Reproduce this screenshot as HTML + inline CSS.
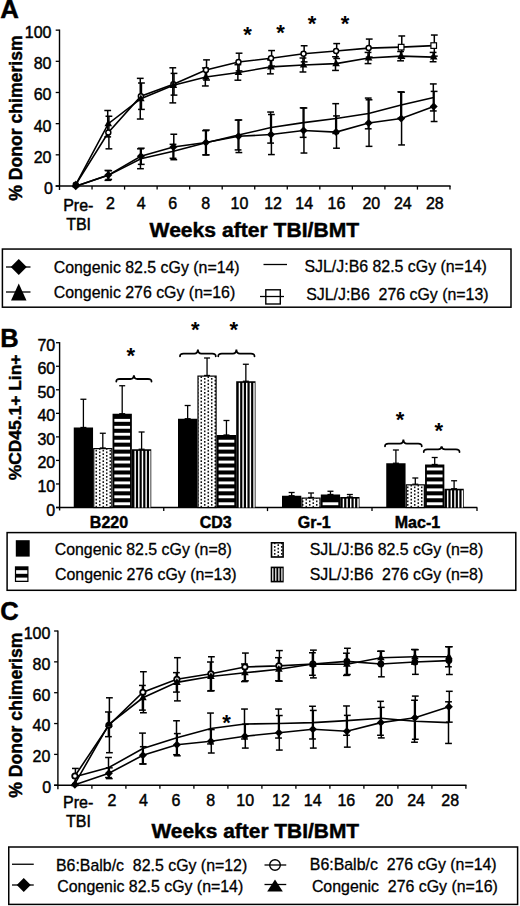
<!DOCTYPE html><html><head><meta charset="utf-8"><title>Figure</title><style>html,body{margin:0;padding:0;background:#fff;}svg{display:block;}</style></head><body>
<svg width="520" height="906" viewBox="0 0 520 906" font-family='"Liberation Sans", sans-serif' fill="#000" stroke="#000">
<defs><pattern id="dots" patternUnits="userSpaceOnUse" width="7" height="3.5"><rect width="7" height="3.5" fill="#fff" stroke="none"/><circle cx="1.75" cy="0.875" r="0.9" fill="#000" stroke="none"/><circle cx="5.25" cy="2.625" r="0.9" fill="#000" stroke="none"/></pattern></defs>
<g stroke="none">
<g stroke="#000">
<line x1="59.5" y1="29.55" x2="59.5" y2="190" stroke-width="1.4"/>
<line x1="55.7" y1="186" x2="59.5" y2="186" stroke-width="1.3"/>
<line x1="55.7" y1="154.83" x2="59.5" y2="154.83" stroke-width="1.3"/>
<line x1="55.7" y1="123.66" x2="59.5" y2="123.66" stroke-width="1.3"/>
<line x1="55.7" y1="92.49" x2="59.5" y2="92.49" stroke-width="1.3"/>
<line x1="55.7" y1="61.32" x2="59.5" y2="61.32" stroke-width="1.3"/>
<line x1="55.7" y1="30.15" x2="59.5" y2="30.15" stroke-width="1.3"/>
<line x1="55.7" y1="186" x2="450.58" y2="186" stroke-width="1.4"/>
<line x1="92.04" y1="186" x2="92.04" y2="189.6" stroke-width="1.3"/>
<line x1="124.58" y1="186" x2="124.58" y2="189.6" stroke-width="1.3"/>
<line x1="157.12" y1="186" x2="157.12" y2="189.6" stroke-width="1.3"/>
<line x1="189.66" y1="186" x2="189.66" y2="189.6" stroke-width="1.3"/>
<line x1="222.2" y1="186" x2="222.2" y2="189.6" stroke-width="1.3"/>
<line x1="254.74" y1="186" x2="254.74" y2="189.6" stroke-width="1.3"/>
<line x1="287.28" y1="186" x2="287.28" y2="189.6" stroke-width="1.3"/>
<line x1="319.82" y1="186" x2="319.82" y2="189.6" stroke-width="1.3"/>
<line x1="352.36" y1="186" x2="352.36" y2="189.6" stroke-width="1.3"/>
<line x1="384.9" y1="186" x2="384.9" y2="189.6" stroke-width="1.3"/>
<line x1="417.44" y1="186" x2="417.44" y2="189.6" stroke-width="1.3"/>
<line x1="449.98" y1="186" x2="449.98" y2="189.6" stroke-width="1.3"/>
</g>
<text x="43.96" y="194" font-size="16" font-weight="normal" stroke="#000" stroke-width="0.45">0</text>
<text x="33.68" y="162.83" font-size="16" font-weight="normal" stroke="#000" stroke-width="0.45">20</text>
<text x="33.68" y="131.66" font-size="16" font-weight="normal" stroke="#000" stroke-width="0.45">40</text>
<text x="33.68" y="100.49" font-size="16" font-weight="normal" stroke="#000" stroke-width="0.45">60</text>
<text x="33.68" y="69.32" font-size="16" font-weight="normal" stroke="#000" stroke-width="0.45">80</text>
<text x="24.8" y="38.15" font-size="16" font-weight="normal" stroke="#000" stroke-width="0.45">100</text>
<text x="105.96" y="208.9" font-size="16" font-weight="normal" stroke="#000" stroke-width="0.45">2</text>
<text x="136.8" y="208.9" font-size="16" font-weight="normal" stroke="#000" stroke-width="0.45">4</text>
<text x="168.22" y="208.9" font-size="16" font-weight="normal" stroke="#000" stroke-width="0.45">6</text>
<text x="201.32" y="208.9" font-size="16" font-weight="normal" stroke="#000" stroke-width="0.45">8</text>
<text x="230.54" y="208.9" font-size="16" font-weight="normal" stroke="#000" stroke-width="0.45">10</text>
<text x="264.17" y="208.9" font-size="16" font-weight="normal" stroke="#000" stroke-width="0.45">12</text>
<text x="295.36" y="208.9" font-size="16" font-weight="normal" stroke="#000" stroke-width="0.45">14</text>
<text x="327.58" y="208.9" font-size="16" font-weight="normal" stroke="#000" stroke-width="0.45">16</text>
<text x="362.39" y="208.9" font-size="16" font-weight="normal" stroke="#000" stroke-width="0.45">20</text>
<text x="393.96" y="208.9" font-size="16" font-weight="normal" stroke="#000" stroke-width="0.45">24</text>
<text x="425.89" y="208.9" font-size="16" font-weight="normal" stroke="#000" stroke-width="0.45">28</text>
<text x="63.2" y="210.8" font-size="16" font-weight="normal" stroke="#000" stroke-width="0.45">Pre-</text>
<text x="66.18" y="229.6" font-size="16" font-weight="normal" stroke="#000" stroke-width="0.45">TBI</text>
<text transform="translate(149.6,236.8) scale(1.0347,1)" font-size="20.4" font-weight="bold" stroke="#000" stroke-width="0.45">Weeks after TBI/BMT</text>
<text transform="translate(21.9,200.74) rotate(-90) scale(0.9785,1)" font-size="18" font-weight="bold" stroke="#000" stroke-width="0.45">% Donor chimerism</text>
<text x="0.26" y="17.9" font-size="25.8" font-weight="bold" stroke="#000" stroke-width="0.45">A</text>
<g stroke="#000">
<line x1="108.91" y1="116.23" x2="108.91" y2="148.83" stroke-width="1.5"/>
<line x1="105.51" y1="116.23" x2="112.31" y2="116.23" stroke-width="1.5"/>
<line x1="105.51" y1="148.83" x2="112.31" y2="148.83" stroke-width="1.5"/>
<line x1="141.45" y1="83.01" x2="141.45" y2="109.4" stroke-width="1.5"/>
<line x1="138.05" y1="83.01" x2="144.85" y2="83.01" stroke-width="1.5"/>
<line x1="138.05" y1="109.4" x2="144.85" y2="109.4" stroke-width="1.5"/>
<line x1="173.99" y1="73.38" x2="173.99" y2="95.12" stroke-width="1.5"/>
<line x1="170.59" y1="73.38" x2="177.39" y2="73.38" stroke-width="1.5"/>
<line x1="170.59" y1="95.12" x2="177.39" y2="95.12" stroke-width="1.5"/>
<line x1="206.53" y1="59.88" x2="206.53" y2="80.06" stroke-width="1.5"/>
<line x1="203.13" y1="59.88" x2="209.93" y2="59.88" stroke-width="1.5"/>
<line x1="203.13" y1="80.06" x2="209.93" y2="80.06" stroke-width="1.5"/>
<line x1="239.07" y1="53.2" x2="239.07" y2="70.9" stroke-width="1.5"/>
<line x1="235.67" y1="53.2" x2="242.47" y2="53.2" stroke-width="1.5"/>
<line x1="235.67" y1="70.9" x2="242.47" y2="70.9" stroke-width="1.5"/>
<line x1="271.61" y1="50.56" x2="271.61" y2="66.09" stroke-width="1.5"/>
<line x1="268.21" y1="50.56" x2="275.01" y2="50.56" stroke-width="1.5"/>
<line x1="268.21" y1="66.09" x2="275.01" y2="66.09" stroke-width="1.5"/>
<line x1="304.15" y1="45.75" x2="304.15" y2="61.89" stroke-width="1.5"/>
<line x1="300.75" y1="45.75" x2="307.55" y2="45.75" stroke-width="1.5"/>
<line x1="300.75" y1="61.89" x2="307.55" y2="61.89" stroke-width="1.5"/>
<line x1="336.69" y1="43.58" x2="336.69" y2="58.48" stroke-width="1.5"/>
<line x1="333.29" y1="43.58" x2="340.09" y2="43.58" stroke-width="1.5"/>
<line x1="333.29" y1="58.48" x2="340.09" y2="58.48" stroke-width="1.5"/>
<line x1="369.23" y1="39.07" x2="369.23" y2="57.08" stroke-width="1.5"/>
<line x1="365.83" y1="39.07" x2="372.63" y2="39.07" stroke-width="1.5"/>
<line x1="365.83" y1="57.08" x2="372.63" y2="57.08" stroke-width="1.5"/>
<line x1="401.77" y1="35.97" x2="401.77" y2="58.32" stroke-width="1.5"/>
<line x1="398.37" y1="35.97" x2="405.17" y2="35.97" stroke-width="1.5"/>
<line x1="398.37" y1="58.32" x2="405.17" y2="58.32" stroke-width="1.5"/>
<line x1="434.31" y1="35.04" x2="434.31" y2="56.15" stroke-width="1.5"/>
<line x1="430.91" y1="35.04" x2="437.71" y2="35.04" stroke-width="1.5"/>
<line x1="430.91" y1="56.15" x2="437.71" y2="56.15" stroke-width="1.5"/>
<line x1="107.71" y1="110.49" x2="107.71" y2="136.88" stroke-width="1.5"/>
<line x1="104.31" y1="110.49" x2="111.11" y2="110.49" stroke-width="1.5"/>
<line x1="104.31" y1="136.88" x2="111.11" y2="136.88" stroke-width="1.5"/>
<line x1="140.25" y1="78.35" x2="140.25" y2="119.03" stroke-width="1.5"/>
<line x1="136.85" y1="78.35" x2="143.65" y2="78.35" stroke-width="1.5"/>
<line x1="136.85" y1="119.03" x2="143.65" y2="119.03" stroke-width="1.5"/>
<line x1="172.79" y1="67.79" x2="172.79" y2="102.88" stroke-width="1.5"/>
<line x1="169.39" y1="67.79" x2="176.19" y2="67.79" stroke-width="1.5"/>
<line x1="169.39" y1="102.88" x2="176.19" y2="102.88" stroke-width="1.5"/>
<line x1="205.33" y1="67.95" x2="205.33" y2="85.96" stroke-width="1.5"/>
<line x1="201.93" y1="67.95" x2="208.73" y2="67.95" stroke-width="1.5"/>
<line x1="201.93" y1="85.96" x2="208.73" y2="85.96" stroke-width="1.5"/>
<line x1="237.87" y1="64.69" x2="237.87" y2="80.21" stroke-width="1.5"/>
<line x1="234.47" y1="64.69" x2="241.27" y2="64.69" stroke-width="1.5"/>
<line x1="234.47" y1="80.21" x2="241.27" y2="80.21" stroke-width="1.5"/>
<line x1="270.41" y1="59.88" x2="270.41" y2="73.85" stroke-width="1.5"/>
<line x1="267.01" y1="59.88" x2="273.81" y2="59.88" stroke-width="1.5"/>
<line x1="267.01" y1="73.85" x2="273.81" y2="73.85" stroke-width="1.5"/>
<line x1="302.95" y1="58.01" x2="302.95" y2="71.99" stroke-width="1.5"/>
<line x1="299.55" y1="58.01" x2="306.35" y2="58.01" stroke-width="1.5"/>
<line x1="299.55" y1="71.99" x2="306.35" y2="71.99" stroke-width="1.5"/>
<line x1="335.49" y1="56.77" x2="335.49" y2="70.43" stroke-width="1.5"/>
<line x1="332.09" y1="56.77" x2="338.89" y2="56.77" stroke-width="1.5"/>
<line x1="332.09" y1="70.43" x2="338.89" y2="70.43" stroke-width="1.5"/>
<line x1="368.03" y1="52.42" x2="368.03" y2="63.6" stroke-width="1.5"/>
<line x1="364.63" y1="52.42" x2="371.43" y2="52.42" stroke-width="1.5"/>
<line x1="364.63" y1="63.6" x2="371.43" y2="63.6" stroke-width="1.5"/>
<line x1="400.57" y1="51.49" x2="400.57" y2="60.81" stroke-width="1.5"/>
<line x1="397.17" y1="51.49" x2="403.97" y2="51.49" stroke-width="1.5"/>
<line x1="397.17" y1="60.81" x2="403.97" y2="60.81" stroke-width="1.5"/>
<line x1="433.11" y1="52.42" x2="433.11" y2="61.74" stroke-width="1.5"/>
<line x1="429.71" y1="52.42" x2="436.51" y2="52.42" stroke-width="1.5"/>
<line x1="429.71" y1="61.74" x2="436.51" y2="61.74" stroke-width="1.5"/>
<line x1="108.71" y1="170.72" x2="108.71" y2="179.42" stroke-width="1.5"/>
<line x1="105.31" y1="170.72" x2="112.11" y2="170.72" stroke-width="1.5"/>
<line x1="105.31" y1="179.42" x2="112.11" y2="179.42" stroke-width="1.5"/>
<line x1="141.25" y1="148.21" x2="141.25" y2="164.36" stroke-width="1.5"/>
<line x1="137.85" y1="148.21" x2="144.65" y2="148.21" stroke-width="1.5"/>
<line x1="137.85" y1="164.36" x2="144.65" y2="164.36" stroke-width="1.5"/>
<line x1="173.79" y1="134.24" x2="173.79" y2="159.7" stroke-width="1.5"/>
<line x1="170.39" y1="134.24" x2="177.19" y2="134.24" stroke-width="1.5"/>
<line x1="170.39" y1="159.7" x2="177.19" y2="159.7" stroke-width="1.5"/>
<line x1="206.33" y1="130.05" x2="206.33" y2="154.89" stroke-width="1.5"/>
<line x1="202.93" y1="130.05" x2="209.73" y2="130.05" stroke-width="1.5"/>
<line x1="202.93" y1="154.89" x2="209.73" y2="154.89" stroke-width="1.5"/>
<line x1="238.87" y1="119.96" x2="238.87" y2="152.56" stroke-width="1.5"/>
<line x1="235.47" y1="119.96" x2="242.27" y2="119.96" stroke-width="1.5"/>
<line x1="235.47" y1="152.56" x2="242.27" y2="152.56" stroke-width="1.5"/>
<line x1="271.41" y1="114.52" x2="271.41" y2="154.58" stroke-width="1.5"/>
<line x1="268.01" y1="114.52" x2="274.81" y2="114.52" stroke-width="1.5"/>
<line x1="268.01" y1="154.58" x2="274.81" y2="154.58" stroke-width="1.5"/>
<line x1="303.95" y1="108" x2="303.95" y2="153.03" stroke-width="1.5"/>
<line x1="300.55" y1="108" x2="307.35" y2="108" stroke-width="1.5"/>
<line x1="300.55" y1="153.03" x2="307.35" y2="153.03" stroke-width="1.5"/>
<line x1="336.49" y1="115.92" x2="336.49" y2="148.21" stroke-width="1.5"/>
<line x1="333.09" y1="115.92" x2="339.89" y2="115.92" stroke-width="1.5"/>
<line x1="333.09" y1="148.21" x2="339.89" y2="148.21" stroke-width="1.5"/>
<line x1="369.03" y1="99.78" x2="369.03" y2="146.35" stroke-width="1.5"/>
<line x1="365.63" y1="99.78" x2="372.43" y2="99.78" stroke-width="1.5"/>
<line x1="365.63" y1="146.35" x2="372.43" y2="146.35" stroke-width="1.5"/>
<line x1="401.57" y1="92.17" x2="401.57" y2="144.95" stroke-width="1.5"/>
<line x1="398.17" y1="92.17" x2="404.97" y2="92.17" stroke-width="1.5"/>
<line x1="398.17" y1="144.95" x2="404.97" y2="144.95" stroke-width="1.5"/>
<line x1="434.11" y1="91.39" x2="434.11" y2="121.51" stroke-width="1.5"/>
<line x1="430.71" y1="91.39" x2="437.51" y2="91.39" stroke-width="1.5"/>
<line x1="430.71" y1="121.51" x2="437.51" y2="121.51" stroke-width="1.5"/>
<line x1="107.91" y1="170.41" x2="107.91" y2="180.35" stroke-width="1.5"/>
<line x1="104.51" y1="170.41" x2="111.31" y2="170.41" stroke-width="1.5"/>
<line x1="104.51" y1="180.35" x2="111.31" y2="180.35" stroke-width="1.5"/>
<line x1="140.45" y1="148.83" x2="140.45" y2="168.71" stroke-width="1.5"/>
<line x1="137.05" y1="148.83" x2="143.85" y2="148.83" stroke-width="1.5"/>
<line x1="137.05" y1="168.71" x2="143.85" y2="168.71" stroke-width="1.5"/>
<line x1="172.99" y1="144.33" x2="172.99" y2="158.31" stroke-width="1.5"/>
<line x1="169.59" y1="144.33" x2="176.39" y2="144.33" stroke-width="1.5"/>
<line x1="169.59" y1="158.31" x2="176.39" y2="158.31" stroke-width="1.5"/>
<line x1="205.53" y1="130.67" x2="205.53" y2="154.89" stroke-width="1.5"/>
<line x1="202.13" y1="130.67" x2="208.93" y2="130.67" stroke-width="1.5"/>
<line x1="202.13" y1="154.89" x2="208.93" y2="154.89" stroke-width="1.5"/>
<line x1="238.07" y1="120.11" x2="238.07" y2="149.92" stroke-width="1.5"/>
<line x1="234.67" y1="120.11" x2="241.47" y2="120.11" stroke-width="1.5"/>
<line x1="234.67" y1="149.92" x2="241.47" y2="149.92" stroke-width="1.5"/>
<line x1="270.61" y1="112.04" x2="270.61" y2="143.09" stroke-width="1.5"/>
<line x1="267.21" y1="112.04" x2="274.01" y2="112.04" stroke-width="1.5"/>
<line x1="267.21" y1="143.09" x2="274.01" y2="143.09" stroke-width="1.5"/>
<line x1="303.15" y1="107.85" x2="303.15" y2="137.35" stroke-width="1.5"/>
<line x1="299.75" y1="107.85" x2="306.55" y2="107.85" stroke-width="1.5"/>
<line x1="299.75" y1="137.35" x2="306.55" y2="137.35" stroke-width="1.5"/>
<line x1="335.69" y1="103.66" x2="335.69" y2="133.47" stroke-width="1.5"/>
<line x1="332.29" y1="103.66" x2="339.09" y2="103.66" stroke-width="1.5"/>
<line x1="332.29" y1="133.47" x2="339.09" y2="133.47" stroke-width="1.5"/>
<line x1="368.23" y1="98.07" x2="368.23" y2="128.81" stroke-width="1.5"/>
<line x1="364.83" y1="98.07" x2="371.63" y2="98.07" stroke-width="1.5"/>
<line x1="364.83" y1="128.81" x2="371.63" y2="128.81" stroke-width="1.5"/>
<line x1="400.77" y1="91.86" x2="400.77" y2="118.25" stroke-width="1.5"/>
<line x1="397.37" y1="91.86" x2="404.17" y2="91.86" stroke-width="1.5"/>
<line x1="397.37" y1="118.25" x2="404.17" y2="118.25" stroke-width="1.5"/>
<line x1="433.31" y1="83.94" x2="433.31" y2="110.95" stroke-width="1.5"/>
<line x1="429.91" y1="83.94" x2="436.71" y2="83.94" stroke-width="1.5"/>
<line x1="429.91" y1="110.95" x2="436.71" y2="110.95" stroke-width="1.5"/>
<polyline fill="none" stroke-width="1.6" points="75.77,184.7 108.31,132.53 140.85,96.2 173.39,84.25 205.93,69.97 238.47,62.05 271.01,58.32 303.55,53.82 336.09,51.03 368.63,48.08 401.17,47.15 433.71,45.59"/>
<polyline fill="none" stroke-width="1.6" points="75.77,184.7 108.31,123.68 140.85,98.69 173.39,85.34 205.93,76.95 238.47,72.45 271.01,66.86 303.55,65 336.09,63.6 368.63,58.01 401.17,56.15 433.71,57.08"/>
<polyline fill="none" stroke-width="1.6" points="75.77,186.25 108.31,175.07 140.85,156.29 173.39,146.97 205.93,142.47 238.47,136.26 271.01,134.55 303.55,130.52 336.09,132.07 368.63,123.06 401.17,118.56 433.71,106.45"/>
<polyline fill="none" stroke-width="1.6" points="75.77,186.25 108.31,175.38 140.85,158.77 173.39,151.32 205.93,142.78 238.47,135.02 271.01,127.57 303.55,122.6 336.09,118.56 368.63,113.44 401.17,105.05 433.71,97.45"/>
<circle cx="75.77" cy="184.7" r="2.5" fill="#fff" stroke-width="1.5"/>
<circle cx="108.31" cy="132.53" r="2.5" fill="#fff" stroke-width="1.5"/>
<circle cx="140.85" cy="96.2" r="2.5" fill="#fff" stroke-width="1.5"/>
<circle cx="173.39" cy="84.25" r="2.5" fill="#fff" stroke-width="1.5"/>
<circle cx="205.93" cy="69.97" r="2.5" fill="#fff" stroke-width="1.5"/>
<circle cx="238.47" cy="62.05" r="2.5" fill="#fff" stroke-width="1.5"/>
<circle cx="271.01" cy="58.32" r="2.5" fill="#fff" stroke-width="1.5"/>
<circle cx="303.55" cy="53.82" r="2.5" fill="#fff" stroke-width="1.5"/>
<circle cx="336.09" cy="51.03" r="2.5" fill="#fff" stroke-width="1.5"/>
<circle cx="368.63" cy="48.08" r="2.5" fill="#fff" stroke-width="1.5"/>
<rect x="398.37" y="44.35" width="5.6" height="5.6" fill="#fff" stroke-width="1.2"/>
<rect x="430.91" y="42.79" width="5.6" height="5.6" fill="#fff" stroke-width="1.2"/>
</g>
<polygon points="75.77,180.4 79.57,187.24 71.97,187.24" fill="#000" stroke="none"/>
<polygon points="108.31,119.38 112.11,126.22 104.51,126.22" fill="#000" stroke="none"/>
<polygon points="140.85,94.39 144.65,101.23 137.05,101.23" fill="#000" stroke="none"/>
<polygon points="173.39,81.04 177.19,87.88 169.59,87.88" fill="#000" stroke="none"/>
<polygon points="205.93,72.65 209.73,79.49 202.13,79.49" fill="#000" stroke="none"/>
<polygon points="238.47,68.15 242.27,74.99 234.67,74.99" fill="#000" stroke="none"/>
<polygon points="271.01,62.56 274.81,69.4 267.21,69.4" fill="#000" stroke="none"/>
<polygon points="303.55,60.7 307.35,67.54 299.75,67.54" fill="#000" stroke="none"/>
<polygon points="336.09,59.3 339.89,66.14 332.29,66.14" fill="#000" stroke="none"/>
<polygon points="368.63,53.71 372.43,60.55 364.83,60.55" fill="#000" stroke="none"/>
<polygon points="401.17,51.85 404.97,58.69 397.37,58.69" fill="#000" stroke="none"/>
<polygon points="433.71,52.78 437.51,59.62 429.91,59.62" fill="#000" stroke="none"/>
<polygon points="75.77,182.25 79.77,186.25 75.77,190.25 71.77,186.25" fill="#000" stroke="none"/>
<polygon points="108.31,171.07 112.31,175.07 108.31,179.07 104.31,175.07" fill="#000" stroke="none"/>
<polygon points="140.85,152.29 144.85,156.29 140.85,160.29 136.85,156.29" fill="#000" stroke="none"/>
<polygon points="173.39,142.97 177.39,146.97 173.39,150.97 169.39,146.97" fill="#000" stroke="none"/>
<polygon points="205.93,138.47 209.93,142.47 205.93,146.47 201.93,142.47" fill="#000" stroke="none"/>
<polygon points="238.47,132.26 242.47,136.26 238.47,140.26 234.47,136.26" fill="#000" stroke="none"/>
<polygon points="271.01,130.55 275.01,134.55 271.01,138.55 267.01,134.55" fill="#000" stroke="none"/>
<polygon points="303.55,126.52 307.55,130.52 303.55,134.52 299.55,130.52" fill="#000" stroke="none"/>
<polygon points="336.09,128.07 340.09,132.07 336.09,136.07 332.09,132.07" fill="#000" stroke="none"/>
<polygon points="368.63,119.06 372.63,123.06 368.63,127.06 364.63,123.06" fill="#000" stroke="none"/>
<polygon points="401.17,114.56 405.17,118.56 401.17,122.56 397.17,118.56" fill="#000" stroke="none"/>
<polygon points="433.71,102.45 437.71,106.45 433.71,110.45 429.71,106.45" fill="#000" stroke="none"/>
<text x="243.21" y="42.36" font-size="22" font-weight="bold">*</text>
<text x="276.21" y="39.86" font-size="22" font-weight="bold">*</text>
<text x="307.71" y="30.61" font-size="22" font-weight="bold">*</text>
<text x="340.71" y="30.61" font-size="22" font-weight="bold">*</text>
<g stroke="#000">
<rect x="2.4" y="249.05" width="508.6" height="58.15" fill="none" stroke-width="1.5"/>
<line x1="6" y1="267" x2="30.5" y2="267" stroke-width="1.3"/>
<line x1="6" y1="292" x2="30.5" y2="292" stroke-width="1.3"/>
<line x1="263.5" y1="264.5" x2="287" y2="264.5" stroke-width="1.3"/>
<line x1="260" y1="296.5" x2="284" y2="296.5" stroke-width="1.3"/>
<rect x="265.8" y="289.8" width="14.5" height="14.2" fill="none" stroke-width="1.4"/>
</g>
<polygon points="18.75,259 26.75,267 18.75,275 10.75,267" fill="#000" stroke="none"/>
<polygon points="18.75,283.5 26.5,300.5 11,300.5" fill="#000"/>
<text x="53.7" y="272.7" font-size="15.9" font-weight="normal" stroke="#000" stroke-width="0.3">Congenic 82.5 cGy (n=14)</text>
<text x="53.7" y="298.2" font-size="15.9" font-weight="normal" stroke="#000" stroke-width="0.3">Congenic 276 cGy (n=16)</text>
<text x="304.48" y="271.8" font-size="15.9" font-weight="normal" stroke="#000" stroke-width="0.3">SJL/J:B6 82.5 cGy (n=14)</text>
<text x="306.18" y="299.5" font-size="15.9" font-weight="normal" stroke="#000" stroke-width="0.3">SJL/J:B6 &#160;276 cGy (n=13)</text>
<g stroke="#000">
<line x1="59.6" y1="342.12" x2="59.6" y2="510.5" stroke-width="1.4"/>
<line x1="56" y1="507.5" x2="59.6" y2="507.5" stroke-width="1.3"/>
<line x1="56" y1="483.96" x2="59.6" y2="483.96" stroke-width="1.3"/>
<line x1="56" y1="460.42" x2="59.6" y2="460.42" stroke-width="1.3"/>
<line x1="56" y1="436.88" x2="59.6" y2="436.88" stroke-width="1.3"/>
<line x1="56" y1="413.34" x2="59.6" y2="413.34" stroke-width="1.3"/>
<line x1="56" y1="389.8" x2="59.6" y2="389.8" stroke-width="1.3"/>
<line x1="56" y1="366.26" x2="59.6" y2="366.26" stroke-width="1.3"/>
<line x1="56" y1="342.72" x2="59.6" y2="342.72" stroke-width="1.3"/>
<line x1="56" y1="507.5" x2="477.3" y2="507.5" stroke-width="1.4"/>
<line x1="163.75" y1="507.5" x2="163.75" y2="511.1" stroke-width="1.3"/>
<line x1="267.5" y1="507.5" x2="267.5" y2="511.1" stroke-width="1.3"/>
<line x1="372" y1="507.5" x2="372" y2="511.1" stroke-width="1.3"/>
<line x1="477" y1="507.5" x2="477" y2="511.1" stroke-width="1.3"/>
</g>
<text x="46.36" y="515.5" font-size="16" font-weight="normal" stroke="#000" stroke-width="0.45">0</text>
<text x="37.48" y="491.96" font-size="16" font-weight="normal" stroke="#000" stroke-width="0.45">10</text>
<text x="37.48" y="468.42" font-size="16" font-weight="normal" stroke="#000" stroke-width="0.45">20</text>
<text x="37.48" y="444.88" font-size="16" font-weight="normal" stroke="#000" stroke-width="0.45">30</text>
<text x="37.48" y="421.34" font-size="16" font-weight="normal" stroke="#000" stroke-width="0.45">40</text>
<text x="37.48" y="397.8" font-size="16" font-weight="normal" stroke="#000" stroke-width="0.45">50</text>
<text x="37.48" y="374.26" font-size="16" font-weight="normal" stroke="#000" stroke-width="0.45">60</text>
<text x="37.48" y="350.72" font-size="16" font-weight="normal" stroke="#000" stroke-width="0.45">70</text>
<text x="0.34" y="346.9" font-size="25.5" font-weight="bold" stroke="#000" stroke-width="0.45">B</text>
<text transform="translate(20.6,480.24) rotate(-90) scale(1.0009,1)" font-size="17.4" font-weight="bold" stroke="#000" stroke-width="0.45">%CD45.1+ Lin+</text>
<g stroke="#000">
<line x1="83.4" y1="399.25" x2="83.4" y2="427.5" stroke-width="1.3"/>
<line x1="80.4" y1="399.25" x2="86.4" y2="399.25" stroke-width="1.3"/>
<line x1="80.4" y1="427.5" x2="86.4" y2="427.5" stroke-width="1.3"/>
</g>
<rect x="73.75" y="427.5" width="19.3" height="80" fill="#000"/>
<g stroke="#000">
<line x1="102.8" y1="433.25" x2="102.8" y2="448" stroke-width="1.3"/>
<line x1="99.8" y1="433.25" x2="105.8" y2="433.25" stroke-width="1.3"/>
<line x1="99.8" y1="448" x2="105.8" y2="448" stroke-width="1.3"/>
</g>
<rect x="93.75" y="448.6" width="18.1" height="58.9" fill="url(#dots)" stroke="#000" stroke-width="1.2"/>
<g stroke="#000">
<line x1="122.2" y1="385.75" x2="122.2" y2="413.75" stroke-width="1.3"/>
<line x1="119.2" y1="385.75" x2="125.2" y2="385.75" stroke-width="1.3"/>
<line x1="119.2" y1="413.75" x2="125.2" y2="413.75" stroke-width="1.3"/>
</g>
<rect x="112.55" y="413.75" width="19.3" height="93.75" fill="#000"/>
<rect x="114.35" y="502.3" width="15.7" height="2.9" fill="#fff"/>
<rect x="114.35" y="495.35" width="15.7" height="2.9" fill="#fff"/>
<rect x="114.35" y="488.4" width="15.7" height="2.9" fill="#fff"/>
<rect x="114.35" y="481.45" width="15.7" height="2.9" fill="#fff"/>
<rect x="114.35" y="474.5" width="15.7" height="2.9" fill="#fff"/>
<rect x="114.35" y="467.55" width="15.7" height="2.9" fill="#fff"/>
<rect x="114.35" y="460.6" width="15.7" height="2.9" fill="#fff"/>
<rect x="114.35" y="453.65" width="15.7" height="2.9" fill="#fff"/>
<rect x="114.35" y="446.7" width="15.7" height="2.9" fill="#fff"/>
<rect x="114.35" y="439.75" width="15.7" height="2.9" fill="#fff"/>
<rect x="114.35" y="432.8" width="15.7" height="2.9" fill="#fff"/>
<rect x="114.35" y="425.85" width="15.7" height="2.9" fill="#fff"/>
<rect x="114.35" y="418.9" width="15.7" height="2.9" fill="#fff"/>
<g stroke="#000">
<line x1="141.6" y1="432" x2="141.6" y2="449.25" stroke-width="1.3"/>
<line x1="138.6" y1="432" x2="144.6" y2="432" stroke-width="1.3"/>
<line x1="138.6" y1="449.25" x2="144.6" y2="449.25" stroke-width="1.3"/>
</g>
<rect x="131.95" y="449.25" width="19.3" height="58.25" fill="#000"/>
<rect x="134.45" y="450.85" width="1.45" height="56.65" fill="#fff"/>
<rect x="138.1" y="450.85" width="1.45" height="56.65" fill="#fff"/>
<rect x="141.75" y="450.85" width="1.45" height="56.65" fill="#fff"/>
<rect x="145.4" y="450.85" width="1.45" height="56.65" fill="#fff"/>
<rect x="149.05" y="450.85" width="1.45" height="56.65" fill="#fff"/>
<g stroke="#000">
<line x1="187.65" y1="405.5" x2="187.65" y2="418.75" stroke-width="1.3"/>
<line x1="184.65" y1="405.5" x2="190.65" y2="405.5" stroke-width="1.3"/>
<line x1="184.65" y1="418.75" x2="190.65" y2="418.75" stroke-width="1.3"/>
</g>
<rect x="178" y="418.75" width="19.3" height="88.75" fill="#000"/>
<g stroke="#000">
<line x1="207.05" y1="358" x2="207.05" y2="375.5" stroke-width="1.3"/>
<line x1="204.05" y1="358" x2="210.05" y2="358" stroke-width="1.3"/>
<line x1="204.05" y1="375.5" x2="210.05" y2="375.5" stroke-width="1.3"/>
</g>
<rect x="198" y="376.1" width="18.1" height="131.4" fill="url(#dots)" stroke="#000" stroke-width="1.2"/>
<g stroke="#000">
<line x1="226.45" y1="420.5" x2="226.45" y2="435" stroke-width="1.3"/>
<line x1="223.45" y1="420.5" x2="229.45" y2="420.5" stroke-width="1.3"/>
<line x1="223.45" y1="435" x2="229.45" y2="435" stroke-width="1.3"/>
</g>
<rect x="216.8" y="435" width="19.3" height="72.5" fill="#000"/>
<rect x="218.6" y="502.3" width="15.7" height="2.9" fill="#fff"/>
<rect x="218.6" y="495.35" width="15.7" height="2.9" fill="#fff"/>
<rect x="218.6" y="488.4" width="15.7" height="2.9" fill="#fff"/>
<rect x="218.6" y="481.45" width="15.7" height="2.9" fill="#fff"/>
<rect x="218.6" y="474.5" width="15.7" height="2.9" fill="#fff"/>
<rect x="218.6" y="467.55" width="15.7" height="2.9" fill="#fff"/>
<rect x="218.6" y="460.6" width="15.7" height="2.9" fill="#fff"/>
<rect x="218.6" y="453.65" width="15.7" height="2.9" fill="#fff"/>
<rect x="218.6" y="446.7" width="15.7" height="2.9" fill="#fff"/>
<rect x="218.6" y="439.75" width="15.7" height="2.9" fill="#fff"/>
<g stroke="#000">
<line x1="245.85" y1="364.25" x2="245.85" y2="381.25" stroke-width="1.3"/>
<line x1="242.85" y1="364.25" x2="248.85" y2="364.25" stroke-width="1.3"/>
<line x1="242.85" y1="381.25" x2="248.85" y2="381.25" stroke-width="1.3"/>
</g>
<rect x="236.2" y="381.25" width="19.3" height="126.25" fill="#000"/>
<rect x="238.7" y="382.85" width="1.45" height="124.65" fill="#fff"/>
<rect x="242.35" y="382.85" width="1.45" height="124.65" fill="#fff"/>
<rect x="246" y="382.85" width="1.45" height="124.65" fill="#fff"/>
<rect x="249.65" y="382.85" width="1.45" height="124.65" fill="#fff"/>
<rect x="253.3" y="382.85" width="1.45" height="124.65" fill="#fff"/>
<g stroke="#000">
<line x1="291.65" y1="492.5" x2="291.65" y2="495.75" stroke-width="1.3"/>
<line x1="288.65" y1="492.5" x2="294.65" y2="492.5" stroke-width="1.3"/>
<line x1="288.65" y1="495.75" x2="294.65" y2="495.75" stroke-width="1.3"/>
</g>
<rect x="282" y="495.75" width="19.3" height="11.75" fill="#000"/>
<g stroke="#000">
<line x1="311.05" y1="493" x2="311.05" y2="497.5" stroke-width="1.3"/>
<line x1="308.05" y1="493" x2="314.05" y2="493" stroke-width="1.3"/>
<line x1="308.05" y1="497.5" x2="314.05" y2="497.5" stroke-width="1.3"/>
</g>
<rect x="302" y="498.1" width="18.1" height="9.4" fill="url(#dots)" stroke="#000" stroke-width="1.2"/>
<g stroke="#000">
<line x1="330.45" y1="491.25" x2="330.45" y2="494.5" stroke-width="1.3"/>
<line x1="327.45" y1="491.25" x2="333.45" y2="491.25" stroke-width="1.3"/>
<line x1="327.45" y1="494.5" x2="333.45" y2="494.5" stroke-width="1.3"/>
</g>
<rect x="320.8" y="494.5" width="19.3" height="13" fill="#000"/>
<rect x="322.6" y="502.3" width="15.7" height="2.9" fill="#fff"/>
<g stroke="#000">
<line x1="349.85" y1="494.5" x2="349.85" y2="497" stroke-width="1.3"/>
<line x1="346.85" y1="494.5" x2="352.85" y2="494.5" stroke-width="1.3"/>
<line x1="346.85" y1="497" x2="352.85" y2="497" stroke-width="1.3"/>
</g>
<rect x="340.2" y="497" width="19.3" height="10.5" fill="#000"/>
<rect x="342.7" y="498.6" width="1.45" height="8.9" fill="#fff"/>
<rect x="346.35" y="498.6" width="1.45" height="8.9" fill="#fff"/>
<rect x="350" y="498.6" width="1.45" height="8.9" fill="#fff"/>
<rect x="353.65" y="498.6" width="1.45" height="8.9" fill="#fff"/>
<rect x="357.3" y="498.6" width="1.45" height="8.9" fill="#fff"/>
<g stroke="#000">
<line x1="395.9" y1="450" x2="395.9" y2="463.25" stroke-width="1.3"/>
<line x1="392.9" y1="450" x2="398.9" y2="450" stroke-width="1.3"/>
<line x1="392.9" y1="463.25" x2="398.9" y2="463.25" stroke-width="1.3"/>
</g>
<rect x="386.25" y="463.25" width="19.3" height="44.25" fill="#000"/>
<g stroke="#000">
<line x1="415.3" y1="478" x2="415.3" y2="484.25" stroke-width="1.3"/>
<line x1="412.3" y1="478" x2="418.3" y2="478" stroke-width="1.3"/>
<line x1="412.3" y1="484.25" x2="418.3" y2="484.25" stroke-width="1.3"/>
</g>
<rect x="406.25" y="484.85" width="18.1" height="22.65" fill="url(#dots)" stroke="#000" stroke-width="1.2"/>
<g stroke="#000">
<line x1="434.7" y1="457.5" x2="434.7" y2="464.5" stroke-width="1.3"/>
<line x1="431.7" y1="457.5" x2="437.7" y2="457.5" stroke-width="1.3"/>
<line x1="431.7" y1="464.5" x2="437.7" y2="464.5" stroke-width="1.3"/>
</g>
<rect x="425.05" y="464.5" width="19.3" height="43" fill="#000"/>
<rect x="426.85" y="502.3" width="15.7" height="2.9" fill="#fff"/>
<rect x="426.85" y="495.35" width="15.7" height="2.9" fill="#fff"/>
<rect x="426.85" y="488.4" width="15.7" height="2.9" fill="#fff"/>
<rect x="426.85" y="481.45" width="15.7" height="2.9" fill="#fff"/>
<rect x="426.85" y="474.5" width="15.7" height="2.9" fill="#fff"/>
<rect x="426.85" y="467.55" width="15.7" height="2.9" fill="#fff"/>
<g stroke="#000">
<line x1="454.1" y1="480.75" x2="454.1" y2="488.75" stroke-width="1.3"/>
<line x1="451.1" y1="480.75" x2="457.1" y2="480.75" stroke-width="1.3"/>
<line x1="451.1" y1="488.75" x2="457.1" y2="488.75" stroke-width="1.3"/>
</g>
<rect x="444.45" y="488.75" width="19.3" height="18.75" fill="#000"/>
<rect x="446.95" y="490.35" width="1.45" height="17.15" fill="#fff"/>
<rect x="450.6" y="490.35" width="1.45" height="17.15" fill="#fff"/>
<rect x="454.25" y="490.35" width="1.45" height="17.15" fill="#fff"/>
<rect x="457.9" y="490.35" width="1.45" height="17.15" fill="#fff"/>
<rect x="461.55" y="490.35" width="1.45" height="17.15" fill="#fff"/>
<g stroke="#000">
<path d="M116.3,381.6 C116.3,379.5 117.1,379 119.8,379 L130.4,379 C132.7,379 133.7,378.2 133.9,375.3 C134.1,378.2 135.1,379 137.4,379 L148,379 C150.7,379 151.5,379.5 151.5,381.6" fill="none" stroke-width="1.8" stroke-linecap="round"/>
<path d="M180,356.25 C180,354.15 180.8,353.65 183.5,353.65 L194.38,353.65 C196.68,353.65 197.68,352.85 197.88,349.5 C198.07,352.85 199.07,353.65 201.38,353.65 L212.25,353.65 C214.95,353.65 215.75,354.15 215.75,356.25" fill="none" stroke-width="1.8" stroke-linecap="round"/>
<path d="M218.25,356.25 C218.25,354.15 219.05,353.65 221.75,353.65 L232.88,353.65 C235.18,353.65 236.18,352.85 236.38,349.5 C236.57,352.85 237.57,353.65 239.88,353.65 L251,353.65 C253.7,353.65 254.5,354.15 254.5,356.25" fill="none" stroke-width="1.8" stroke-linecap="round"/>
<path d="M385,446.25 C385,444.15 385.8,443.65 388.5,443.65 L399.88,443.65 C402.18,443.65 403.18,442.85 403.38,439.5 C403.57,442.85 404.57,443.65 406.88,443.65 L418.25,443.65 C420.95,443.65 421.75,444.15 421.75,446.25" fill="none" stroke-width="1.8" stroke-linecap="round"/>
<path d="M423.75,452 C423.75,449.9 424.55,449.4 427.25,449.4 L438.12,449.4 C440.43,449.4 441.43,448.6 441.62,446.25 C441.82,448.6 442.82,449.4 445.12,449.4 L456,449.4 C458.7,449.4 459.5,449.9 459.5,452" fill="none" stroke-width="1.8" stroke-linecap="round"/>
</g>
<text x="126.56" y="362.61" font-size="22" font-weight="bold">*</text>
<text x="191.11" y="337.11" font-size="22" font-weight="bold">*</text>
<text x="229.46" y="337.11" font-size="22" font-weight="bold">*</text>
<text x="395.71" y="427.21" font-size="22" font-weight="bold">*</text>
<text x="434.46" y="437.51" font-size="22" font-weight="bold">*</text>
<text x="89.83" y="527.9" font-size="16" font-weight="bold" stroke="#000" stroke-width="0.45">B220</text>
<text x="199.76" y="527.9" font-size="16" font-weight="bold" stroke="#000" stroke-width="0.45">CD3</text>
<text x="297.84" y="527.9" font-size="16" font-weight="bold" stroke="#000" stroke-width="0.45">Gr-1</text>
<text x="394.75" y="527.9" font-size="16" font-weight="bold" stroke="#000" stroke-width="0.45">Mac-1</text>
<g stroke="#000">
<rect x="7.1" y="532.6" width="508.7" height="57.7" fill="none" stroke-width="1.5"/>
</g>
<rect x="15.8" y="540.2" width="13.9" height="16.4" fill="#000"/>
<rect x="14.9" y="566.3" width="13.6" height="15.7" fill="#000"/>
<rect x="16.1" y="570.2" width="11.2" height="3.6" fill="#fff"/>
<rect x="16.1" y="577.6" width="11.2" height="3.1" fill="#fff"/>
<rect x="270.7" y="542" width="13.2" height="15.8" fill="#000"/>
<rect x="272.3" y="543.6" width="10" height="12.6" fill="url(#dots)"/>
<rect x="270.7" y="566.6" width="13" height="15.8" fill="#000"/>
<rect x="272.2" y="568.2" width="1.2" height="12.6" fill="#fff"/>
<rect x="275.2" y="568.2" width="1.2" height="12.6" fill="#fff"/>
<rect x="278.3" y="568.2" width="1.2" height="12.6" fill="#fff"/>
<rect x="281.3" y="568.2" width="1.2" height="12.6" fill="#fff"/>
<text x="54.7" y="554.8" font-size="15.9" font-weight="normal" stroke="#000" stroke-width="0.3">Congenic 82.5 cGy (n=8)</text>
<text x="55" y="579.8" font-size="15.9" font-weight="normal" stroke="#000" stroke-width="0.3">Congenic 276 cGy (n=13)</text>
<text x="309.68" y="554.6" font-size="15.9" font-weight="normal" stroke="#000" stroke-width="0.3">SJL/J:B6 82.5 cGy (n=8)</text>
<text x="309.68" y="580" font-size="15.9" font-weight="normal" stroke="#000" stroke-width="0.3">SJL/J:B6 &#160;276 cGy (n=8)</text>
<g stroke="#000">
<line x1="57.9" y1="630.4" x2="57.9" y2="789.25" stroke-width="1.4"/>
<line x1="54.1" y1="785.25" x2="57.9" y2="785.25" stroke-width="1.3"/>
<line x1="54.1" y1="754.4" x2="57.9" y2="754.4" stroke-width="1.3"/>
<line x1="54.1" y1="723.55" x2="57.9" y2="723.55" stroke-width="1.3"/>
<line x1="54.1" y1="692.7" x2="57.9" y2="692.7" stroke-width="1.3"/>
<line x1="54.1" y1="661.85" x2="57.9" y2="661.85" stroke-width="1.3"/>
<line x1="54.1" y1="631" x2="57.9" y2="631" stroke-width="1.3"/>
<line x1="54.1" y1="785.25" x2="466.5" y2="785.25" stroke-width="1.4"/>
<line x1="91.9" y1="785.25" x2="91.9" y2="788.85" stroke-width="1.3"/>
<line x1="125.9" y1="785.25" x2="125.9" y2="788.85" stroke-width="1.3"/>
<line x1="159.9" y1="785.25" x2="159.9" y2="788.85" stroke-width="1.3"/>
<line x1="193.9" y1="785.25" x2="193.9" y2="788.85" stroke-width="1.3"/>
<line x1="227.9" y1="785.25" x2="227.9" y2="788.85" stroke-width="1.3"/>
<line x1="261.9" y1="785.25" x2="261.9" y2="788.85" stroke-width="1.3"/>
<line x1="295.9" y1="785.25" x2="295.9" y2="788.85" stroke-width="1.3"/>
<line x1="329.9" y1="785.25" x2="329.9" y2="788.85" stroke-width="1.3"/>
<line x1="363.9" y1="785.25" x2="363.9" y2="788.85" stroke-width="1.3"/>
<line x1="397.9" y1="785.25" x2="397.9" y2="788.85" stroke-width="1.3"/>
<line x1="431.9" y1="785.25" x2="431.9" y2="788.85" stroke-width="1.3"/>
<line x1="465.9" y1="785.25" x2="465.9" y2="788.85" stroke-width="1.3"/>
</g>
<text x="42.26" y="793.05" font-size="16" font-weight="normal" stroke="#000" stroke-width="0.45">0</text>
<text x="32.58" y="762.2" font-size="16" font-weight="normal" stroke="#000" stroke-width="0.45">20</text>
<text x="32.58" y="731.35" font-size="16" font-weight="normal" stroke="#000" stroke-width="0.45">40</text>
<text x="32.58" y="700.5" font-size="16" font-weight="normal" stroke="#000" stroke-width="0.45">60</text>
<text x="32.58" y="669.65" font-size="16" font-weight="normal" stroke="#000" stroke-width="0.45">80</text>
<text x="23.7" y="638.8" font-size="16" font-weight="normal" stroke="#000" stroke-width="0.45">100</text>
<text x="107.46" y="805.9" font-size="16" font-weight="normal" stroke="#000" stroke-width="0.45">2</text>
<text x="139.1" y="805.9" font-size="16" font-weight="normal" stroke="#000" stroke-width="0.45">4</text>
<text x="171.52" y="805.9" font-size="16" font-weight="normal" stroke="#000" stroke-width="0.45">6</text>
<text x="206.22" y="805.9" font-size="16" font-weight="normal" stroke="#000" stroke-width="0.45">8</text>
<text x="236.34" y="805.9" font-size="16" font-weight="normal" stroke="#000" stroke-width="0.45">10</text>
<text x="272.12" y="805.9" font-size="16" font-weight="normal" stroke="#000" stroke-width="0.45">12</text>
<text x="303.76" y="805.9" font-size="16" font-weight="normal" stroke="#000" stroke-width="0.45">14</text>
<text x="337.38" y="805.9" font-size="16" font-weight="normal" stroke="#000" stroke-width="0.45">16</text>
<text x="375.34" y="805.9" font-size="16" font-weight="normal" stroke="#000" stroke-width="0.45">20</text>
<text x="407.16" y="805.9" font-size="16" font-weight="normal" stroke="#000" stroke-width="0.45">24</text>
<text x="441.34" y="805.9" font-size="16" font-weight="normal" stroke="#000" stroke-width="0.45">28</text>
<text x="63.1" y="808.1" font-size="16" font-weight="normal" stroke="#000" stroke-width="0.45">Pre-</text>
<text x="66.08" y="827.1" font-size="16" font-weight="normal" stroke="#000" stroke-width="0.45">TBI</text>
<text transform="translate(151.5,837.7) scale(1.0254,1)" font-size="20.4" font-weight="bold" stroke="#000" stroke-width="0.45">Weeks after TBI/BMT</text>
<text transform="translate(21.6,797.84) rotate(-90) scale(0.9770,1)" font-size="18" font-weight="bold" stroke="#000" stroke-width="0.45">% Donor chimerism</text>
<text x="0.28" y="619.6" font-size="25.5" font-weight="bold" stroke="#000" stroke-width="0.45">C</text>
<g stroke="#000">
<line x1="75.4" y1="768.44" x2="75.4" y2="783.55" stroke-width="1.5"/>
<line x1="72" y1="768.44" x2="78.8" y2="768.44" stroke-width="1.5"/>
<line x1="72" y1="783.55" x2="78.8" y2="783.55" stroke-width="1.5"/>
<line x1="109.4" y1="697.79" x2="109.4" y2="752.7" stroke-width="1.5"/>
<line x1="106" y1="697.79" x2="112.8" y2="697.79" stroke-width="1.5"/>
<line x1="106" y1="752.7" x2="112.8" y2="752.7" stroke-width="1.5"/>
<line x1="143.4" y1="671.72" x2="143.4" y2="712.75" stroke-width="1.5"/>
<line x1="140" y1="671.72" x2="146.8" y2="671.72" stroke-width="1.5"/>
<line x1="140" y1="712.75" x2="146.8" y2="712.75" stroke-width="1.5"/>
<line x1="177.4" y1="657.69" x2="177.4" y2="700.88" stroke-width="1.5"/>
<line x1="174" y1="657.69" x2="180.8" y2="657.69" stroke-width="1.5"/>
<line x1="174" y1="700.88" x2="180.8" y2="700.88" stroke-width="1.5"/>
<line x1="211.4" y1="656.76" x2="211.4" y2="690.69" stroke-width="1.5"/>
<line x1="208" y1="656.76" x2="214.8" y2="656.76" stroke-width="1.5"/>
<line x1="208" y1="690.69" x2="214.8" y2="690.69" stroke-width="1.5"/>
<line x1="245.4" y1="653.06" x2="245.4" y2="680.82" stroke-width="1.5"/>
<line x1="242" y1="653.06" x2="248.8" y2="653.06" stroke-width="1.5"/>
<line x1="242" y1="680.82" x2="248.8" y2="680.82" stroke-width="1.5"/>
<line x1="279.4" y1="650.59" x2="279.4" y2="681.13" stroke-width="1.5"/>
<line x1="276" y1="650.59" x2="282.8" y2="650.59" stroke-width="1.5"/>
<line x1="276" y1="681.13" x2="282.8" y2="681.13" stroke-width="1.5"/>
<line x1="313.4" y1="650.13" x2="313.4" y2="677.89" stroke-width="1.5"/>
<line x1="310" y1="650.13" x2="316.8" y2="650.13" stroke-width="1.5"/>
<line x1="310" y1="677.89" x2="316.8" y2="677.89" stroke-width="1.5"/>
<line x1="347.4" y1="648.28" x2="347.4" y2="674.5" stroke-width="1.5"/>
<line x1="344" y1="648.28" x2="350.8" y2="648.28" stroke-width="1.5"/>
<line x1="344" y1="674.5" x2="350.8" y2="674.5" stroke-width="1.5"/>
<line x1="381.4" y1="651.21" x2="381.4" y2="676.81" stroke-width="1.5"/>
<line x1="378" y1="651.21" x2="384.8" y2="651.21" stroke-width="1.5"/>
<line x1="378" y1="676.81" x2="384.8" y2="676.81" stroke-width="1.5"/>
<line x1="415.4" y1="649.66" x2="415.4" y2="674.34" stroke-width="1.5"/>
<line x1="412" y1="649.66" x2="418.8" y2="649.66" stroke-width="1.5"/>
<line x1="412" y1="674.34" x2="418.8" y2="674.34" stroke-width="1.5"/>
<line x1="449.4" y1="646.73" x2="449.4" y2="674.5" stroke-width="1.5"/>
<line x1="446" y1="646.73" x2="452.8" y2="646.73" stroke-width="1.5"/>
<line x1="446" y1="674.5" x2="452.8" y2="674.5" stroke-width="1.5"/>
<line x1="108.4" y1="711.98" x2="108.4" y2="736.66" stroke-width="1.5"/>
<line x1="105" y1="711.98" x2="111.8" y2="711.98" stroke-width="1.5"/>
<line x1="105" y1="736.66" x2="111.8" y2="736.66" stroke-width="1.5"/>
<line x1="142.4" y1="685.45" x2="142.4" y2="710.13" stroke-width="1.5"/>
<line x1="139" y1="685.45" x2="145.8" y2="685.45" stroke-width="1.5"/>
<line x1="139" y1="710.13" x2="145.8" y2="710.13" stroke-width="1.5"/>
<line x1="176.4" y1="672.65" x2="176.4" y2="692.08" stroke-width="1.5"/>
<line x1="173" y1="672.65" x2="179.8" y2="672.65" stroke-width="1.5"/>
<line x1="173" y1="692.08" x2="179.8" y2="692.08" stroke-width="1.5"/>
<line x1="210.4" y1="662" x2="210.4" y2="691" stroke-width="1.5"/>
<line x1="207" y1="662" x2="213.8" y2="662" stroke-width="1.5"/>
<line x1="207" y1="691" x2="213.8" y2="691" stroke-width="1.5"/>
<line x1="244.4" y1="664.01" x2="244.4" y2="681.59" stroke-width="1.5"/>
<line x1="241" y1="664.01" x2="247.8" y2="664.01" stroke-width="1.5"/>
<line x1="241" y1="681.59" x2="247.8" y2="681.59" stroke-width="1.5"/>
<line x1="278.4" y1="657.69" x2="278.4" y2="680.82" stroke-width="1.5"/>
<line x1="275" y1="657.69" x2="281.8" y2="657.69" stroke-width="1.5"/>
<line x1="275" y1="680.82" x2="281.8" y2="680.82" stroke-width="1.5"/>
<line x1="312.4" y1="652.75" x2="312.4" y2="675.27" stroke-width="1.5"/>
<line x1="309" y1="652.75" x2="315.8" y2="652.75" stroke-width="1.5"/>
<line x1="309" y1="675.27" x2="315.8" y2="675.27" stroke-width="1.5"/>
<line x1="346.4" y1="653.21" x2="346.4" y2="675.42" stroke-width="1.5"/>
<line x1="343" y1="653.21" x2="349.8" y2="653.21" stroke-width="1.5"/>
<line x1="343" y1="675.42" x2="349.8" y2="675.42" stroke-width="1.5"/>
<line x1="380.4" y1="651.21" x2="380.4" y2="664.16" stroke-width="1.5"/>
<line x1="377" y1="651.21" x2="383.8" y2="651.21" stroke-width="1.5"/>
<line x1="377" y1="664.16" x2="383.8" y2="664.16" stroke-width="1.5"/>
<line x1="414.4" y1="649.51" x2="414.4" y2="664.01" stroke-width="1.5"/>
<line x1="411" y1="649.51" x2="417.8" y2="649.51" stroke-width="1.5"/>
<line x1="411" y1="664.01" x2="417.8" y2="664.01" stroke-width="1.5"/>
<line x1="448.4" y1="646.73" x2="448.4" y2="666.79" stroke-width="1.5"/>
<line x1="445" y1="646.73" x2="451.8" y2="646.73" stroke-width="1.5"/>
<line x1="445" y1="666.79" x2="451.8" y2="666.79" stroke-width="1.5"/>
<line x1="109.3" y1="767.82" x2="109.3" y2="778.62" stroke-width="1.5"/>
<line x1="105.9" y1="767.82" x2="112.7" y2="767.82" stroke-width="1.5"/>
<line x1="105.9" y1="778.62" x2="112.7" y2="778.62" stroke-width="1.5"/>
<line x1="143.3" y1="746.69" x2="143.3" y2="763.96" stroke-width="1.5"/>
<line x1="139.9" y1="746.69" x2="146.7" y2="746.69" stroke-width="1.5"/>
<line x1="139.9" y1="763.96" x2="146.7" y2="763.96" stroke-width="1.5"/>
<line x1="177.3" y1="733.58" x2="177.3" y2="755.79" stroke-width="1.5"/>
<line x1="173.9" y1="733.58" x2="180.7" y2="733.58" stroke-width="1.5"/>
<line x1="173.9" y1="755.79" x2="180.7" y2="755.79" stroke-width="1.5"/>
<line x1="211.3" y1="729.57" x2="211.3" y2="753.01" stroke-width="1.5"/>
<line x1="207.9" y1="729.57" x2="214.7" y2="729.57" stroke-width="1.5"/>
<line x1="207.9" y1="753.01" x2="214.7" y2="753.01" stroke-width="1.5"/>
<line x1="245.3" y1="724.32" x2="245.3" y2="748.08" stroke-width="1.5"/>
<line x1="241.9" y1="724.32" x2="248.7" y2="724.32" stroke-width="1.5"/>
<line x1="241.9" y1="748.08" x2="248.7" y2="748.08" stroke-width="1.5"/>
<line x1="279.3" y1="715.53" x2="279.3" y2="750.08" stroke-width="1.5"/>
<line x1="275.9" y1="715.53" x2="282.7" y2="715.53" stroke-width="1.5"/>
<line x1="275.9" y1="750.08" x2="282.7" y2="750.08" stroke-width="1.5"/>
<line x1="313.3" y1="710.44" x2="313.3" y2="748.08" stroke-width="1.5"/>
<line x1="309.9" y1="710.44" x2="316.7" y2="710.44" stroke-width="1.5"/>
<line x1="309.9" y1="748.08" x2="316.7" y2="748.08" stroke-width="1.5"/>
<line x1="347.3" y1="715.37" x2="347.3" y2="747.15" stroke-width="1.5"/>
<line x1="343.9" y1="715.37" x2="350.7" y2="715.37" stroke-width="1.5"/>
<line x1="343.9" y1="747.15" x2="350.7" y2="747.15" stroke-width="1.5"/>
<line x1="381.3" y1="707.35" x2="381.3" y2="737.9" stroke-width="1.5"/>
<line x1="377.9" y1="707.35" x2="384.7" y2="707.35" stroke-width="1.5"/>
<line x1="377.9" y1="737.9" x2="384.7" y2="737.9" stroke-width="1.5"/>
<line x1="415.3" y1="696.09" x2="415.3" y2="739.28" stroke-width="1.5"/>
<line x1="411.9" y1="696.09" x2="418.7" y2="696.09" stroke-width="1.5"/>
<line x1="411.9" y1="739.28" x2="418.7" y2="739.28" stroke-width="1.5"/>
<line x1="449.3" y1="691.31" x2="449.3" y2="722.16" stroke-width="1.5"/>
<line x1="445.9" y1="691.31" x2="452.7" y2="691.31" stroke-width="1.5"/>
<line x1="445.9" y1="722.16" x2="452.7" y2="722.16" stroke-width="1.5"/>
<line x1="108.5" y1="757.49" x2="108.5" y2="777.54" stroke-width="1.5"/>
<line x1="105.1" y1="757.49" x2="111.9" y2="757.49" stroke-width="1.5"/>
<line x1="105.1" y1="777.54" x2="111.9" y2="777.54" stroke-width="1.5"/>
<line x1="142.5" y1="733.11" x2="142.5" y2="763.96" stroke-width="1.5"/>
<line x1="139.1" y1="733.11" x2="145.9" y2="733.11" stroke-width="1.5"/>
<line x1="139.1" y1="763.96" x2="145.9" y2="763.96" stroke-width="1.5"/>
<line x1="176.5" y1="720.77" x2="176.5" y2="754.71" stroke-width="1.5"/>
<line x1="173.1" y1="720.77" x2="179.9" y2="720.77" stroke-width="1.5"/>
<line x1="173.1" y1="754.71" x2="179.9" y2="754.71" stroke-width="1.5"/>
<line x1="210.5" y1="713.06" x2="210.5" y2="743.91" stroke-width="1.5"/>
<line x1="207.1" y1="713.06" x2="213.9" y2="713.06" stroke-width="1.5"/>
<line x1="207.1" y1="743.91" x2="213.9" y2="743.91" stroke-width="1.5"/>
<line x1="244.5" y1="709.05" x2="244.5" y2="738.98" stroke-width="1.5"/>
<line x1="241.1" y1="709.05" x2="247.9" y2="709.05" stroke-width="1.5"/>
<line x1="241.1" y1="738.98" x2="247.9" y2="738.98" stroke-width="1.5"/>
<line x1="278.5" y1="709.05" x2="278.5" y2="738.05" stroke-width="1.5"/>
<line x1="275.1" y1="709.05" x2="281.9" y2="709.05" stroke-width="1.5"/>
<line x1="275.1" y1="738.05" x2="281.9" y2="738.05" stroke-width="1.5"/>
<line x1="312.5" y1="706.27" x2="312.5" y2="738.98" stroke-width="1.5"/>
<line x1="309.1" y1="706.27" x2="315.9" y2="706.27" stroke-width="1.5"/>
<line x1="309.1" y1="738.98" x2="315.9" y2="738.98" stroke-width="1.5"/>
<line x1="346.5" y1="705.97" x2="346.5" y2="735.27" stroke-width="1.5"/>
<line x1="343.1" y1="705.97" x2="349.9" y2="705.97" stroke-width="1.5"/>
<line x1="343.1" y1="735.27" x2="349.9" y2="735.27" stroke-width="1.5"/>
<line x1="380.5" y1="701.34" x2="380.5" y2="735.27" stroke-width="1.5"/>
<line x1="377.1" y1="701.34" x2="383.9" y2="701.34" stroke-width="1.5"/>
<line x1="377.1" y1="735.27" x2="383.9" y2="735.27" stroke-width="1.5"/>
<line x1="414.5" y1="700.26" x2="414.5" y2="742.21" stroke-width="1.5"/>
<line x1="411.1" y1="700.26" x2="417.9" y2="700.26" stroke-width="1.5"/>
<line x1="411.1" y1="742.21" x2="417.9" y2="742.21" stroke-width="1.5"/>
<line x1="448.5" y1="701.8" x2="448.5" y2="743.45" stroke-width="1.5"/>
<line x1="445.1" y1="701.8" x2="451.9" y2="701.8" stroke-width="1.5"/>
<line x1="445.1" y1="743.45" x2="451.9" y2="743.45" stroke-width="1.5"/>
<polyline fill="none" stroke-width="1.6" points="74.9,776 108.9,725.25 142.9,692.24 176.9,679.28 210.9,673.73 244.9,666.94 278.9,665.86 312.9,664.01 346.9,661.39 380.9,664.01 414.9,662 448.9,660.62"/>
<polyline fill="none" stroke-width="1.6" points="74.9,783.71 108.9,724.32 142.9,697.79 176.9,682.37 210.9,676.5 244.9,672.8 278.9,669.25 312.9,664.01 346.9,664.32 380.9,657.69 414.9,656.76 448.9,656.76"/>
<polyline fill="none" stroke-width="1.6" points="74.9,784.79 108.9,773.22 142.9,755.33 176.9,744.68 210.9,741.29 244.9,736.2 278.9,732.8 312.9,729.26 346.9,731.26 380.9,722.62 414.9,717.69 448.9,706.74"/>
<polyline fill="none" stroke-width="1.6" points="74.9,776.77 108.9,767.51 142.9,748.54 176.9,737.74 210.9,728.49 244.9,724.01 278.9,723.55 312.9,722.62 346.9,720.62 380.9,718.31 414.9,721.24 448.9,722.62"/>
<circle cx="74.9" cy="776" r="2.7" fill="#fff" stroke-width="1.8"/>
<circle cx="108.9" cy="725.25" r="2.7" fill="#fff" stroke-width="1.8"/>
<circle cx="142.9" cy="692.24" r="2.7" fill="#fff" stroke-width="1.8"/>
<circle cx="176.9" cy="679.28" r="2.7" fill="#fff" stroke-width="1.8"/>
<circle cx="210.9" cy="673.73" r="2.7" fill="#fff" stroke-width="1.8"/>
<circle cx="244.9" cy="666.94" r="2.7" fill="#fff" stroke-width="1.8"/>
<circle cx="278.9" cy="665.86" r="2.7" fill="#fff" stroke-width="1.8"/>
<circle cx="312.9" cy="664.01" r="2.7" fill="#fff" stroke-width="1.8"/>
<circle cx="346.9" cy="661.39" r="3.4" fill="#000" stroke="none"/>
<circle cx="380.9" cy="664.01" r="3.4" fill="#000" stroke="none"/>
<circle cx="414.9" cy="662" r="3.4" fill="#000" stroke="none"/>
<circle cx="448.9" cy="660.62" r="3.4" fill="#000" stroke="none"/>
</g>
<polygon points="74.9,779.41 78.7,786.25 71.1,786.25" fill="#000" stroke="none"/>
<polygon points="108.9,720.02 112.7,726.86 105.1,726.86" fill="#000" stroke="none"/>
<polygon points="142.9,693.49 146.7,700.33 139.1,700.33" fill="#000" stroke="none"/>
<polygon points="176.9,678.07 180.7,684.91 173.1,684.91" fill="#000" stroke="none"/>
<polygon points="210.9,672.2 214.7,679.04 207.1,679.04" fill="#000" stroke="none"/>
<polygon points="244.9,668.5 248.7,675.34 241.1,675.34" fill="#000" stroke="none"/>
<polygon points="278.9,664.95 282.7,671.79 275.1,671.79" fill="#000" stroke="none"/>
<polygon points="312.9,659.71 316.7,666.55 309.1,666.55" fill="#000" stroke="none"/>
<polygon points="346.9,660.02 350.7,666.86 343.1,666.86" fill="#000" stroke="none"/>
<polygon points="380.9,653.39 384.7,660.23 377.1,660.23" fill="#000" stroke="none"/>
<polygon points="414.9,652.46 418.7,659.3 411.1,659.3" fill="#000" stroke="none"/>
<polygon points="448.9,652.46 452.7,659.3 445.1,659.3" fill="#000" stroke="none"/>
<polygon points="74.9,780.79 78.9,784.79 74.9,788.79 70.9,784.79" fill="#000" stroke="none"/>
<polygon points="108.9,769.22 112.9,773.22 108.9,777.22 104.9,773.22" fill="#000" stroke="none"/>
<polygon points="142.9,751.33 146.9,755.33 142.9,759.33 138.9,755.33" fill="#000" stroke="none"/>
<polygon points="176.9,740.68 180.9,744.68 176.9,748.68 172.9,744.68" fill="#000" stroke="none"/>
<polygon points="210.9,737.29 214.9,741.29 210.9,745.29 206.9,741.29" fill="#000" stroke="none"/>
<polygon points="244.9,732.2 248.9,736.2 244.9,740.2 240.9,736.2" fill="#000" stroke="none"/>
<polygon points="278.9,728.8 282.9,732.8 278.9,736.8 274.9,732.8" fill="#000" stroke="none"/>
<polygon points="312.9,725.26 316.9,729.26 312.9,733.26 308.9,729.26" fill="#000" stroke="none"/>
<polygon points="346.9,727.26 350.9,731.26 346.9,735.26 342.9,731.26" fill="#000" stroke="none"/>
<polygon points="380.9,718.62 384.9,722.62 380.9,726.62 376.9,722.62" fill="#000" stroke="none"/>
<polygon points="414.9,713.69 418.9,717.69 414.9,721.69 410.9,717.69" fill="#000" stroke="none"/>
<polygon points="448.9,702.74 452.9,706.74 448.9,710.74 444.9,706.74" fill="#000" stroke="none"/>
<text x="222.16" y="729.51" font-size="22" font-weight="bold">*</text>
<g stroke="#000">
<rect x="8.75" y="847" width="508.85" height="57.4" fill="none" stroke-width="1.5"/>
<line x1="12" y1="864.25" x2="33.75" y2="864.25" stroke-width="1.3"/>
<line x1="12" y1="885" x2="33.75" y2="885" stroke-width="1.3"/>
<line x1="264.5" y1="865" x2="286.25" y2="865" stroke-width="1.3"/>
<line x1="264.5" y1="884.5" x2="286.25" y2="884.5" stroke-width="1.3"/>
<circle cx="275" cy="865" r="5.3" fill="none" stroke-width="1.4"/>
</g>
<polygon points="23.75,878 30.75,885 23.75,892 16.75,885" fill="#000" stroke="none"/>
<polygon points="275,879.5 282.8,891.5 267.2,891.5" fill="#000"/>
<text x="56.03" y="870.6" font-size="15.9" font-weight="normal" stroke="#000" stroke-width="0.3">B6:Balb/c &#160;82.5 cGy (n=12)</text>
<text x="57.3" y="891.9" font-size="15.9" font-weight="normal" stroke="#000" stroke-width="0.3">Congenic 82.5 cGy (n=14)</text>
<text x="309.83" y="870.3" font-size="15.9" font-weight="normal" stroke="#000" stroke-width="0.3">B6:Balb/c &#160;276 cGy (n=14)</text>
<text x="311.9" y="891.5" font-size="15.9" font-weight="normal" stroke="#000" stroke-width="0.3">Congenic &#160;276 cGy (n=16)</text>
</g></svg></body></html>
